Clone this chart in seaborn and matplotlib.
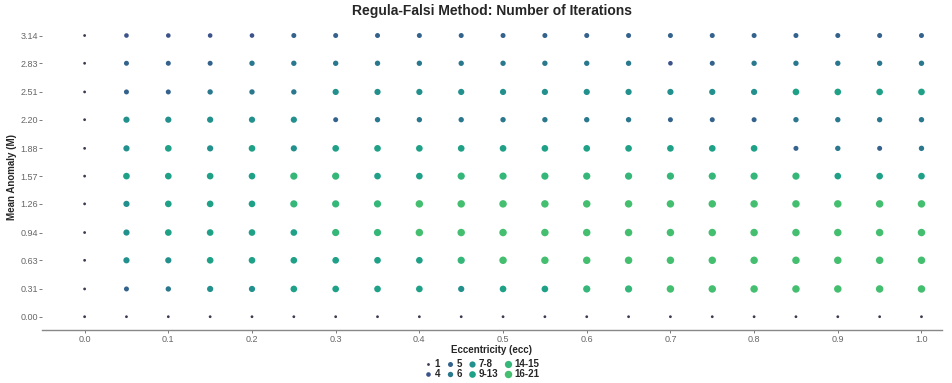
import matplotlib.pyplot as plt
import seaborn as sns
import numpy as np
import pandas as pd

sns.set_theme(style="white")
plt.rcParams['font.family'] = ['Liberation Sans', 'DejaVu Sans']

# --- data ---
ecc_values = [round(0.05 * i, 2) for i in range(21)]
m_values = [3.14, 2.83, 2.51, 2.20, 1.88, 1.57, 1.26, 0.94, 0.63, 0.31, 0.00]
m_labels = ["3.14", "2.83", "2.51", "2.20", "1.88", "1.57", "1.26", "0.94", "0.63", "0.31", "0.00"]
categories = ["1", "4", "5", "6", "7-8", "9-13", "14-15", "16-21"]

# iteration class per cell, rows from M=3.14 down to M=0.00, columns ecc 0.0 .. 1.0
A, B, C, D, E, F, G, H = categories
iter_grid = [
    [A, B, B, B, B, C, C, C, C, C, C, C, C, C, C, C, C, C, C, C, C],
    [A, C, C, C, D, D, D, D, D, D, D, D, D, D, B, C, D, D, D, D, D],
    [A, C, C, D, D, D, E, E, E, E, E, E, E, E, E, E, E, F, F, F, F],
    [A, E, E, E, E, E, C, D, D, D, D, D, D, D, C, C, C, D, D, D, D],
    [A, E, F, E, F, E, F, F, F, F, F, F, F, F, F, F, F, C, D, C, D],
    [A, F, F, F, F, G, G, F, F, G, G, G, G, G, G, G, G, G, F, F, F],
    [A, E, F, F, F, G, G, G, H, H, H, H, H, H, H, H, H, H, H, H, H],
    [A, E, F, F, F, F, G, G, H, H, H, H, H, H, H, H, H, H, H, H, H],
    [A, E, E, F, F, F, F, F, F, G, H, H, H, H, H, H, H, H, H, H, H],
    [A, C, D, E, E, F, F, F, F, E, F, F, G, G, H, H, H, H, H, H, H],
    [A] * 21,
]

rows = []
for m, row in zip(m_values, iter_grid):
    for e, cat in zip(ecc_values, row):
        rows.append({"ecc": e, "M": m, "iters": cat})
df = pd.DataFrame(rows)

colors = ["#3a3a50", "#3b528b", "#33638d", "#2a788e", "#22908c", "#1fa188", "#35b779", "#44bf70"]
palette = dict(zip(categories, colors))
size_map = dict(zip(categories, [4, 11, 13, 15, 20, 23, 27, 29]))

fig = plt.figure(figsize=(9.53, 3.83), dpi=100)
ax = fig.add_axes([0.044, 0.138, 0.944, 0.802])

sns.scatterplot(data=df, x="ecc", y="M", hue="iters", size="iters",
                hue_order=categories, size_order=categories,
                palette=palette, sizes=size_map, linewidth=0, ax=ax)

ax.set_xlim(-0.051, 1.024)
ax.set_ylim(-0.15, 3.28)
ax.set_xticks(np.arange(0, 1.01, 0.1))
ax.set_xticklabels([f"{v:.1f}" for v in np.arange(0, 1.01, 0.1)])
ax.set_yticks(m_values)
ax.set_yticklabels(m_labels)
ax.tick_params(axis='both', labelsize=6.5, colors='#666666', length=2, width=0.6,
               left=True, bottom=True, pad=1.5)
ax.tick_params(axis='y', pad=1)
for s in ['top', 'right', 'left']:
    ax.spines[s].set_visible(False)
ax.spines['bottom'].set_color('#888888')
ax.spines['bottom'].set_linewidth(1.0)
ax.grid(False)

ax.set_title("Regula-Falsi Method: Number of Iterations", fontsize=10, fontweight='bold', pad=6)
ax.set_xlabel("Eccentricity (ecc)", fontsize=7, fontweight='bold', labelpad=1)
ax.set_ylabel("Mean Anomaly (M)", fontsize=7, fontweight='bold', labelpad=2)

sns.move_legend(ax, "upper center", bbox_to_anchor=(0.489, -0.078), ncol=4, title=None,
                frameon=False, fontsize=7, handletextpad=0.3, columnspacing=0.6,
                labelspacing=0.05, borderpad=0, handlelength=0.8)
for t in ax.get_legend().get_texts():
    t.set_fontweight('bold')

fig.savefig("out.png", dpi=100)
